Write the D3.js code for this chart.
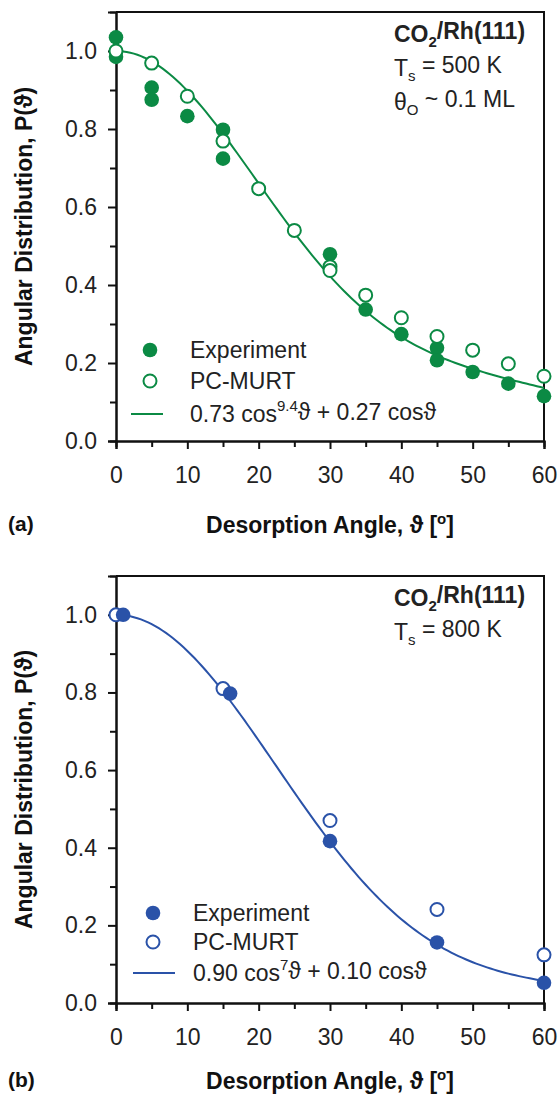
<!DOCTYPE html>
<html>
<head>
<meta charset="utf-8">
<script src="https://cdn.jsdelivr.net/npm/d3@7"></script>
<style>
html,body{margin:0;padding:0;background:#fff;}
svg{display:block;}
text{font-family:"Liberation Sans",Arial,Helvetica,sans-serif;}
</style>
</head>
<body>
<script>
// ---------- data ----------
const angleTicks = [0, 10, 20, 30, 40, 50, 60];
const angleMinorTicks = [5, 15, 25, 35, 45, 55];
const pTicks = [0.0, 0.2, 0.4, 0.6, 0.8, 1.0];
const pMinorTicks = [0.1, 0.3, 0.5, 0.7, 0.9];

// Panel (a): Ts = 500 K
const expA_angle = [0, 0, 5, 5, 10, 15, 15, 30, 35, 40, 45, 45, 50, 55, 60];
const expA_p     = [1.035, 0.985, 0.906, 0.875, 0.833, 0.798, 0.724, 0.479, 0.337, 0.274, 0.239, 0.207, 0.177, 0.147, 0.115];
const pcA_angle  = [0, 5, 10, 15, 20, 25, 30, 30, 35, 40, 45, 50, 55, 60];
const pcA_p      = [1.0, 0.969, 0.884, 0.769, 0.647, 0.540, 0.447, 0.437, 0.374, 0.316, 0.268, 0.233, 0.198, 0.166];
const fitA = [0.73, 9.4, 0.27];   // a*cos^n + b*cos

// Panel (b): Ts = 800 K
const expB_angle = [1, 16, 30, 45, 60];
const expB_p     = [1.0, 0.797, 0.417, 0.156, 0.052];
const pcB_angle  = [0, 15, 30, 45, 60];
const pcB_p      = [1.0, 0.810, 0.470, 0.241, 0.124];
const fitB = [0.90, 7, 0.10];

const greenC = "#0b8a44";
const blueC = "#2a52a8";

// ---------- drawing ----------
const W = 559, H = 1099;
const svg = d3.select("body").append("svg").attr("width", W).attr("height", H);
const FS = 23;

function drawPanel(cfg) {
  const {left, right, top, bottom, color, exp, pc, fit, openOnTop, label, ann, legend, titleOff} = cfg;
  const x = d3.scaleLinear().domain([0, 60]).range([left, right]);
  const y = d3.scaleLinear().domain([0, 1.1]).range([bottom, top]);
  const g = svg.append("g");

  // frame top/right
  g.append("path")
    .attr("d", `M${left},${top}H${right}V${bottom}`)
    .attr("fill", "none").attr("stroke", "#111").attr("stroke-width", 2);

  // axes
  const yAx = g.append("g").attr("transform", `translate(${left},0)`)
    .call(d3.axisLeft(y).tickValues(pTicks).tickSize(8).tickPadding(11).tickFormat(d3.format(".1f")));
  const yMin = g.append("g").attr("transform", `translate(${left},0)`)
    .call(d3.axisLeft(y).tickValues(pMinorTicks).tickSize(6).tickFormat(""));
  const xAx = g.append("g").attr("transform", `translate(0,${bottom})`)
    .call(d3.axisBottom(x).tickValues(angleTicks).tickSize(8).tickPadding(18));
  const xMin = g.append("g").attr("transform", `translate(0,${bottom})`)
    .call(d3.axisBottom(x).tickValues(angleMinorTicks).tickSize(6).tickFormat(""));
  [yAx, yMin, xAx, xMin].forEach(a => {
    a.select(".domain").attr("stroke", "#111").attr("stroke-width", 2);
    a.selectAll(".tick line").attr("stroke", "#111").attr("stroke-width", 2);
    a.selectAll(".tick text").attr("font-size", FS).attr("fill", "#222")
      .attr("font-family", "'Liberation Sans',Arial,sans-serif");
  });

  // fit curve
  const angs = d3.range(0, 60.01, 0.5);
  const line = d3.line().x(d => x(d)).y(d => {
    const c = Math.cos(d * Math.PI / 180);
    return y(fit[0] * Math.pow(c, fit[1]) + fit[2] * c);
  });
  g.append("path").datum(angs).attr("d", line)
    .attr("fill", "none").attr("stroke", color).attr("stroke-width", 2);

  const drawExp = () => g.append("g").selectAll("circle")
    .data(d3.zip(exp[0], exp[1])).join("circle")
    .attr("cx", d => x(d[0])).attr("cy", d => y(d[1])).attr("r", 7.3)
    .attr("fill", color);
  const drawPc = () => g.append("g").selectAll("circle")
    .data(d3.zip(pc[0], pc[1])).join("circle")
    .attr("cx", d => x(d[0])).attr("cy", d => y(d[1])).attr("r", 6.5)
    .attr("fill", "#fff").attr("stroke", color).attr("stroke-width", 2);
  if (openOnTop) { drawExp(); drawPc(); } else { drawPc(); drawExp(); }

  // legend
  const L = legend;
  g.append("circle").attr("cx", L.mx).attr("cy", L.rows[0]).attr("r", 7.3).attr("fill", color);
  g.append("circle").attr("cx", L.mx).attr("cy", L.rows[1]).attr("r", 6.5)
    .attr("fill", "#fff").attr("stroke", color).attr("stroke-width", 2);
  g.append("line").attr("x1", L.lx1).attr("x2", L.lx2).attr("y1", L.rows[2]).attr("y2", L.rows[2])
    .attr("stroke", color).attr("stroke-width", 2);
  const lt = (yy) => g.append("text").attr("x", L.tx).attr("y", yy).attr("dy", "0.36em")
    .attr("font-size", FS).attr("fill", "#222");
  lt(L.rows[0]).text("Experiment");
  lt(L.rows[1]).text("PC-MURT");
  const f = lt(L.rows[2]);
  f.append("tspan").text(`${fit[0].toFixed(2)} cos`);
  f.append("tspan").attr("font-size", 15).attr("dy", "-0.75em").text(String(fit[1]));
  f.append("tspan").attr("dy", "0.39em").text("\u03D1 + " + fit[2].toFixed(2) + " cos\u03D1");

  // annotations
  ann.forEach((a, i) => {
    const t = g.append("text").attr("x", 394).attr("y", top + 30 + i * 34)
      .attr("font-size", FS).attr("fill", "#222");
    a.forEach(part => {
      const s = t.append("tspan").text(part.t);
      if (part.bold) t.attr("font-weight", "bold");
      if (part.sub) s.attr("font-size", 15).attr("dy", "0.35em");
      if (part.back) s.attr("dy", "-0.35em");
    });
  });

  // axis titles
  g.append("text").attr("x", (left + right) / 2).attr("y", bottom + titleOff)
    .attr("text-anchor", "middle").attr("font-size", FS).attr("font-weight", "bold").attr("fill", "#111")
    .text("Desorption Angle, \u03D1 [")
    .append("tspan").attr("font-size", 15).attr("dy", "-0.6em").text("o")
    .select(function(){ return this.parentNode; })
    .append("tspan").attr("dy", "0.4em").text("]");
  g.append("text").attr("x", 8).attr("y", bottom + titleOff - 2)
    .attr("font-size", 21).attr("font-weight", "bold").attr("fill", "#111").text(label);
  g.append("text")
    .attr("transform", `translate(32,${(top + bottom) / 2}) rotate(-90)`)
    .attr("text-anchor", "middle").attr("font-size", FS).attr("font-weight", "bold").attr("fill", "#111")
    .text("Angular Distribution, P(\u03D1)");
}

drawPanel({
  left: 116, right: 544, top: 12, bottom: 441, color: greenC, titleOff: 92,
  exp: [expA_angle, expA_p], pc: [pcA_angle, pcA_p], fit: fitA, openOnTop: true, label: "(a)",
  ann: [
    [{t: "CO", bold: true}, {t: "2", sub: true}, {t: "/Rh(111)", back: true}],
    [{t: "T"}, {t: "s", sub: true}, {t: " = 500 K", back: true}],
    [{t: "\u03B8"}, {t: "O", sub: true}, {t: " ~ 0.1 ML", back: true}]
  ],
  legend: {mx: 150, lx1: 131, lx2: 163, tx: 190, rows: [350, 381, 414]}
});

drawPanel({
  left: 116, right: 544, top: 576, bottom: 1003, color: blueC, titleOff: 86,
  exp: [expB_angle, expB_p], pc: [pcB_angle, pcB_p], fit: fitB, openOnTop: false, label: "(b)",
  ann: [
    [{t: "CO", bold: true}, {t: "2", sub: true}, {t: "/Rh(111)", back: true}],
    [{t: "T"}, {t: "s", sub: true}, {t: " = 800 K", back: true}]
  ],
  legend: {mx: 153, lx1: 133, lx2: 175, tx: 193, rows: [913, 942, 973]}
});
</script>
</body>
</html>
